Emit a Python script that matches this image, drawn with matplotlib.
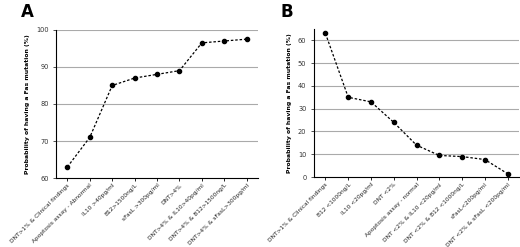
import numpy as np
import matplotlib
matplotlib.use("Agg")
import matplotlib.pyplot as plt

labels_a = ["DNT>1% & Clinical findings", "Apoptosis assay - Abnormal", "IL10 >40pg/ml",
            "B12>1500ng/L", "sFasL >300pg/ml", "DNT>4%", "DNT>4% & IL10>40pg/ml",
            "DNT>4% & B12>1500ng/L", "DNT>4% & sFasL>300pg/ml"]
values_a = [63, 71, 85, 87, 88, 89, 96.5, 97, 97.5]

labels_b = ["DNT>1% & Clinical findings", "B12 <1000ng/L", "IL10 <20pg/ml", "DNT <2%",
            "Apoptosis assay - normal", "DNT <2% & IL10 <20pg/ml", "DNT <2% & B12 <1000ng/L",
            "sFasL<200pg/ml", "DNT <2% & sFasL <200pg/ml"]
values_b = [63, 35, 33, 24, 14, 9.5, 9, 7.7, 1.5]

ylabel = "Probability of having a Fas mutation (%)"

fig = plt.figure(figsize=(5.2, 2.47), dpi=100)
ax_a = fig.add_axes([0.108, 0.279, 0.388, 0.600])
ax_b = fig.add_axes([0.604, 0.283, 0.394, 0.600])


def style(ax, labels, values, ylim, yticks, grid):
    x = np.arange(len(values))
    for g in grid:
        ax.axhline(g, color="#aaaaaa", lw=0.8, zorder=0)
    ax.plot(x, values, linestyle=(0, (2, 1.5)), color="black", lw=0.9,
            marker="o", markersize=3, zorder=3)
    ax.set_xlim(-0.5, len(values) - 0.5)
    ax.set_ylim(*ylim)
    ax.set_yticks(yticks)
    ax.set_xticks(x)
    ax.set_xticklabels(labels, rotation=45, ha="right", rotation_mode="anchor",
                       fontsize=4.2, color="#222222")
    ax.tick_params(axis="y", labelsize=4.8, colors="#333333", length=2, width=0.6)
    ax.tick_params(axis="x", length=2, width=0.6, pad=1.5)
    for s in ["top", "right"]:
        ax.spines[s].set_visible(False)
    for s in ["left", "bottom"]:
        ax.spines[s].set_linewidth(0.8)
    ax.set_ylabel(ylabel, fontsize=4.4, fontweight="bold", labelpad=4)


style(ax_a, labels_a, values_a, (60, 100), [60, 70, 80, 90, 100], [70, 80, 90, 100])
style(ax_b, labels_b, values_b, (0, 65), [0, 10, 20, 30, 40, 50, 60], [10, 20, 30, 40, 50, 60])

fig.text(0.04, 0.95, "A", fontsize=12, fontweight="bold", va="center")
fig.text(0.54, 0.95, "B", fontsize=12, fontweight="bold", va="center")

fig.savefig("out.png", dpi=100)
